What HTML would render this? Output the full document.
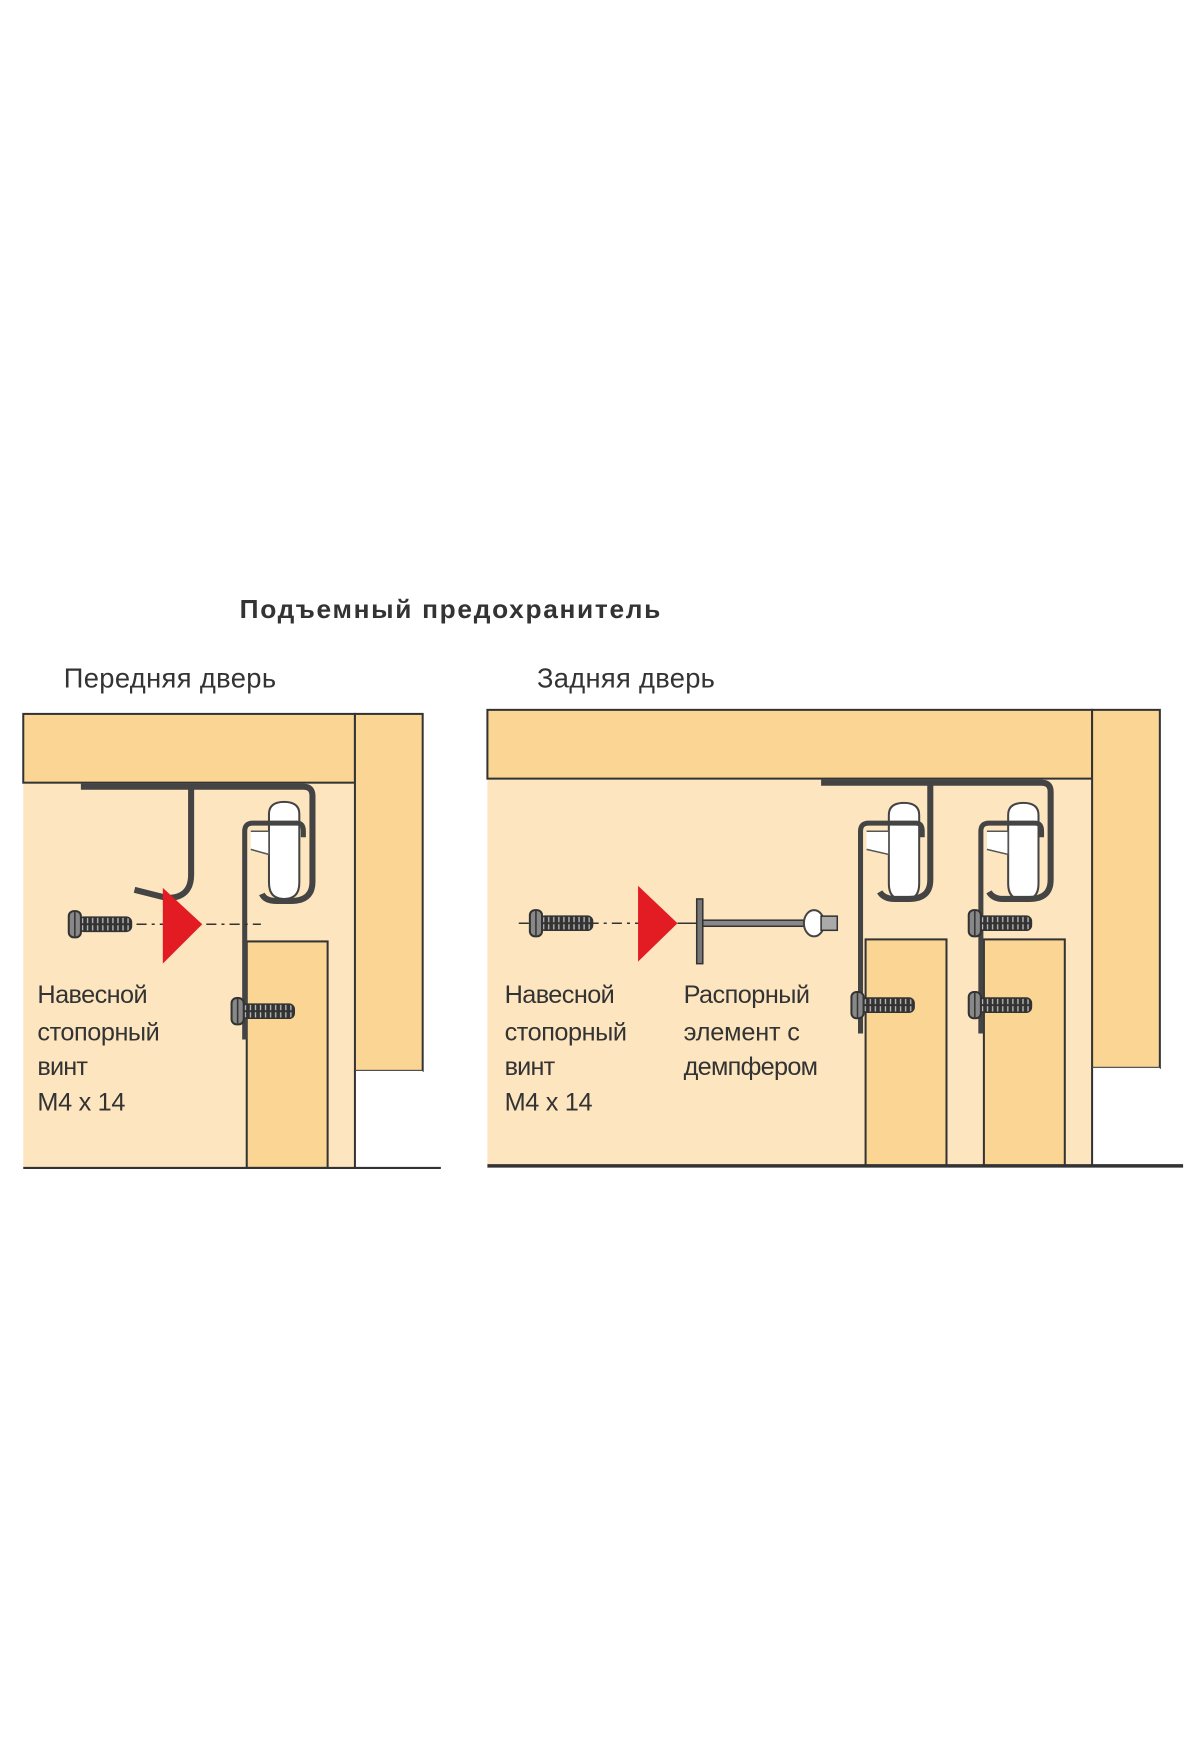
<!DOCTYPE html>
<html><head><meta charset="utf-8"><style>
html,body{margin:0;padding:0;background:#fff}
svg{display:block}
text{font-family:"Liberation Sans Narrow","Liberation Sans",sans-serif;fill:#333}
</style></head><body>
<svg width="1200" height="1760" viewBox="0 0 1200 1760" xmlns="http://www.w3.org/2000/svg">
<defs>
<pattern id="thr" width="5" height="12" patternUnits="userSpaceOnUse">
<rect width="5" height="12" fill="#333"/><rect x="3" y="1" width="1.3" height="10" fill="#bbb"/>
</pattern>
<g id="screw">
<rect x="10" y="-7" width="52" height="14" rx="5" fill="url(#thr)" stroke="#333" stroke-width="1.5"/>
<rect x="0" y="-13" width="12" height="26" rx="5" fill="#888" stroke="#333" stroke-width="2"/>
<line x1="6" y1="-12" x2="6" y2="12" stroke="#333" stroke-width="1.5"/>
</g>
<g id="roller">
<path d="M0,12 Q0,0 15,0 Q30,0 30,12 V80 Q30,96 15,96 Q0,96 0,80 Z" fill="#fff" stroke="#444" stroke-width="2"/>
</g>
</defs>
<g transform="scale(1.0112)">
<text x="237" y="611" textLength="416" style="font-family:'Liberation Sans',sans-serif;font-weight:bold;font-size:26px">Подъемный предохранитель</text>
<text x="63" y="680" textLength="210" style="font-family:'Liberation Sans',sans-serif;font-size:27px">Передняя дверь</text>
<text x="531" y="680" textLength="176" style="font-family:'Liberation Sans',sans-serif;font-size:27px">Задняя дверь</text>

<!-- LEFT PANEL -->
<rect x="23" y="774" width="328" height="381" fill="#fde6bf"/>
<rect x="23" y="706" width="328" height="68" fill="#fad594" stroke="#333" stroke-width="2"/>
<rect x="351" y="706" width="67" height="353" fill="#fad594" stroke="#333" stroke-width="2"/>
<rect x="351" y="1059" width="67" height="96" fill="#fff"/>
<line x1="351" y1="1059" x2="351" y2="1155" stroke="#333" stroke-width="2"/>
<rect x="244" y="931" width="80" height="224" fill="#fad594" stroke="#333" stroke-width="2"/>
<line x1="23" y1="1155" x2="436" y2="1155" stroke="#333" stroke-width="2"/>
<use href="#roller" x="266" y="793"/>
<path d="M242,1028 V822 Q242,814 250,814 H294 Q300,814 300,822 V828" fill="none" stroke="#444" stroke-width="5"/>
<path d="M248,822 L266,822 L266,845 L248,840" fill="#fff" stroke="#555" stroke-width="1.5"/>
<path d="M80,778 H300 Q309,778 309,787 V872 Q309,891 288,891 H274 Q262,891 259,884" fill="none" stroke="#444" stroke-width="6"/>
<path d="M189,778 V865 Q189,888 165,888 L133,880" fill="none" stroke="#444" stroke-width="6"/>
<line x1="135" y1="914" x2="258" y2="914" stroke="#333" stroke-width="1.5" stroke-dasharray="10,5,3,5"/>
<use href="#screw" x="68" y="914"/>
<polygon points="161,878 161,953 200,914" fill="#e31b23"/>
<use href="#screw" x="229" y="1000"/>
<g style="font-size:25px">
<text x="37" y="992" textLength="109">Навесной</text>
<text x="37" y="1029" textLength="121">стопорный</text>
<text x="37" y="1063" textLength="50">винт</text>
<text x="37" y="1098" textLength="87">M4 x 14</text>
</g>

<!-- RIGHT PANEL -->
<rect x="482" y="770" width="598" height="383" fill="#fde6bf"/>
<rect x="482" y="702" width="598" height="68" fill="#fad594" stroke="#333" stroke-width="2"/>
<rect x="1080" y="702" width="67" height="354" fill="#fad594" stroke="#333" stroke-width="2"/>
<rect x="1080" y="1056" width="67" height="97" fill="#fff"/>
<line x1="1080" y1="1056" x2="1080" y2="1153" stroke="#333" stroke-width="2"/>
<rect x="856" y="929" width="80" height="224" fill="#fad594" stroke="#333" stroke-width="2"/>
<rect x="973" y="929" width="80" height="224" fill="#fad594" stroke="#333" stroke-width="2"/>
<line x1="482" y1="1153" x2="1170" y2="1153" stroke="#333" stroke-width="3.5"/>
<use href="#roller" x="879" y="794"/>
<use href="#roller" x="997" y="794"/>
<path d="M851,1022 V822 Q851,814 859,814 H906 Q912,814 912,822 V828" fill="none" stroke="#444" stroke-width="5"/>
<path d="M970,1022 V822 Q970,814 978,814 H1024 Q1030,814 1030,822 V828" fill="none" stroke="#444" stroke-width="5"/>
<path d="M857,822 L879,822 L879,845 L857,840" fill="#fff" stroke="#555" stroke-width="1.5"/>
<path d="M976,822 L997,822 L997,845 L976,840" fill="#fff" stroke="#555" stroke-width="1.5"/>
<path d="M812,774 H1030 Q1039,774 1039,783 V870 Q1039,889 1018,889 H992 Q982,889 978,882" fill="none" stroke="#444" stroke-width="6"/>
<path d="M920,774 V870 Q920,889 899,889 H885 Q874,889 870,882" fill="none" stroke="#444" stroke-width="6"/>
<line x1="513" y1="913" x2="680" y2="913" stroke="#333" stroke-width="1.5" stroke-dasharray="10,5,3,5"/>
<use href="#screw" x="524" y="913"/>
<polygon points="631,876 631,951 670,913" fill="#e31b23"/>
<rect x="689" y="889" width="6" height="64" fill="#777" stroke="#333" stroke-width="1.5"/>
<rect x="695" y="910" width="130" height="6" fill="#888" stroke="#333" stroke-width="1.5"/>
<ellipse cx="805" cy="913" rx="10" ry="13" fill="#fff" stroke="#444" stroke-width="2"/>
<rect x="812" y="906" width="16" height="14" fill="#aaa" stroke="#333" stroke-width="1.5"/>
<line x1="670" y1="913" x2="689" y2="913" stroke="#333" stroke-width="1.5"/>
<use href="#screw" x="958" y="913"/>
<use href="#screw" x="842" y="994"/>
<use href="#screw" x="958" y="994"/>
<g style="font-size:25px">
<text x="499" y="992" textLength="109">Навесной</text>
<text x="499" y="1029" textLength="121">стопорный</text>
<text x="499" y="1063" textLength="50">винт</text>
<text x="499" y="1098" textLength="87">M4 x 14</text>
<text x="676" y="992" textLength="125">Распорный</text>
<text x="676" y="1029" textLength="115">элемент с</text>
<text x="676" y="1063" textLength="133">демпфером</text>
</g>
</g>
</svg>
</body></html>
